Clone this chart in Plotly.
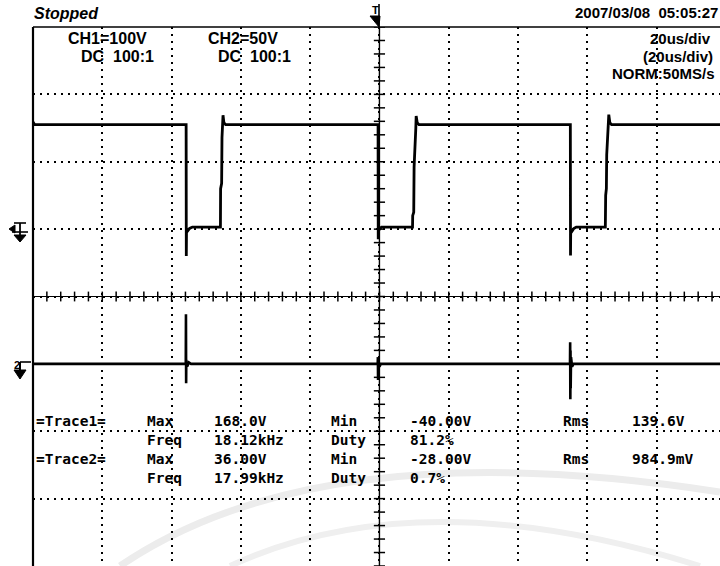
import numpy as np
import plotly.graph_objects as go

# ---------------- data ----------------
# CH1 (100 V/div) waveform breakpoints: time in us, voltage in V
ch1_time_us = [0, 0.5, 1.5,
               44.2, 44.25, 44.3, 44.6, 45.2, 46.0,
               54.1, 54.15, 54.45, 54.55, 54.85, 55.1, 55.6,
               99.6, 99.65, 99.7, 100.0, 100.6,
               109.55, 109.6, 109.9, 110.0, 110.5, 110.6, 110.9, 111.4,
               155.1, 155.15, 155.2, 155.5, 156.1, 156.8,
               165.2, 165.3, 165.5, 165.6, 166.1, 166.2, 166.5, 167.0,
               198.4]
ch1_volts = [159, 155, 155,
             155, -40, -5, -3, 1, 3,
             3, 60, 68, 136, 169, 158, 155,
             155, -15, -3, 0, 3,
             3, 20, 25, 92, 150, 168, 158, 155,
             155, -39, -6, -4, 1, 3,
             3, 50, 60, 110, 150, 170, 158, 155,
             155]

# CH2 (50 V/div) waveform breakpoints
ch2_time_us = [0, 44.1, 44.15, 44.2, 44.25, 44.5, 45.0, 45.6,
               99.5, 99.55, 99.6, 99.7, 100.0, 100.4,
               155.0, 155.05, 155.1, 155.15, 155.2, 155.3, 155.6, 156.0,
               198.4]
ch2_volts = [0, 0, 36.8, -14.4, 3, -2, 1, 0,
             0, 5, -12, 3, -2, 0,
             0, 16, -26.3, 10, -18, 5, -2, 0,
             0]

header_left = ["CH1=100V", "DC  100:1", "CH2=50V", "DC  100:1"]
header_right = ["20us/div", "(20us/div)", "NORM:50MS/s"]
status_text = "Stopped"
timestamp = "2007/03/08  05:05:27"

meas_rows = [
    ["=Trace1=", "Max", "168.0V", "Min", "-40.00V", "Rms", "139.6V"],
    ["", "Freq", "18.12kHz", "Duty", "81.2%", "", ""],
    ["=Trace2=", "Max", "36.00V", "Min", "-28.00V", "Rms", "984.9mV"],
    ["", "Freq", "17.99kHz", "Duty", "0.7%", "", ""],
]

# ---------------- geometry ----------------
W, H = 720, 566
L, T = 33, 27
PW, PH = W - L, H - T
X_RANGE = [0, 198.3]          # us, 20 us/div
CH1_RANGE = [-500, 300]       # V, 100 V/div, ground 1 div above centre
CH2_RANGE = [-150, 250]       # V, 50 V/div, ground 1 div below centre


def px(x):
    return (x - L) / PW


def py(y):
    return (H - y) / PH


fig = go.Figure()

# centre graticule lines with minor ticks
tick_x = np.arange(0, 198.4, 4)
tick_y = np.arange(-500, 301, 20)
fig.add_trace(go.Scatter(x=[X_RANGE[0], X_RANGE[1]], y=[-100, -100], mode="lines",
                         line=dict(color="black", width=1.2), hoverinfo="skip"))
fig.add_trace(go.Scatter(x=[100, 100], y=CH1_RANGE, mode="lines",
                         line=dict(color="black", width=1.4), hoverinfo="skip"))
fig.add_trace(go.Scatter(x=tick_x, y=[-100] * len(tick_x), mode="markers",
                         marker=dict(symbol="line-ns-open", size=7, color="black",
                                     line=dict(color="black", width=1.5)),
                         hoverinfo="skip"))
fig.add_trace(go.Scatter(x=[100] * len(tick_y), y=tick_y, mode="markers",
                         marker=dict(symbol="line-ew-open", size=8, color="black",
                                     line=dict(color="black", width=1.5)),
                         hoverinfo="skip"))

# waveforms
fig.add_trace(go.Scatter(x=ch1_time_us, y=ch1_volts, mode="lines",
                         line=dict(color="black", width=2.8), yaxis="y",
                         name="CH1"))
fig.add_trace(go.Scatter(x=ch2_time_us, y=ch2_volts, mode="lines",
                         line=dict(color="black", width=2.6), yaxis="y2",
                         name="CH2"))

grid_style = dict(showgrid=True, gridcolor="black", gridwidth=1.6,
                  griddash="2px,5px", zeroline=False, showticklabels=False,
                  ticks="", showline=False)

fig.update_layout(
    width=W, height=H,
    margin=dict(l=L, r=0, t=T, b=0, pad=0),
    paper_bgcolor="white", plot_bgcolor="white",
    showlegend=False,
    xaxis=dict(range=X_RANGE, dtick=20, tick0=0, **grid_style),
    yaxis=dict(range=CH1_RANGE, dtick=100, tick0=0, **grid_style),
    yaxis2=dict(range=CH2_RANGE, overlaying="y", showgrid=False, zeroline=False,
                showticklabels=False, ticks="", showline=False),
)

shapes = []
# frame: left and top border
shapes.append(dict(type="line", xref="paper", yref="paper", x0=0, x1=0, y0=0, y1=1,
                   line=dict(color="black", width=2.2)))
shapes.append(dict(type="line", xref="paper", yref="paper", x0=0, x1=1, y0=1, y1=1,
                   line=dict(color="black", width=1.5)))

# faint watermark arcs
shapes.append(dict(type="path", xref="paper", yref="paper", layer="below",
                   path=f"M {px(120)},{py(566)} Q {px(320)},{py(430)} {px(720)},{py(492)}",
                   line=dict(color="#ececec", width=7)))
shapes.append(dict(type="path", xref="paper", yref="paper", layer="below",
                   path=f"M {px(230)},{py(566)} Q {px(420)},{py(478)} {px(700)},{py(566)}",
                   line=dict(color="#efefef", width=6)))

# trigger marker (top centre)
shapes.append(dict(type="line", xref="paper", yref="paper",
                   x0=px(379), x1=px(379), y0=py(4), y1=py(27),
                   line=dict(color="black", width=1.6)))
shapes.append(dict(type="path", xref="paper", yref="paper", fillcolor="black",
                   path=f"M {px(370)},{py(16)} L {px(380)},{py(16)} L {px(379)},{py(27)} Z",
                   line=dict(color="black", width=1)))

# CH1 ground marker
shapes += [
    dict(type="line", xref="paper", yref="paper", x0=px(14), x1=px(26), y0=py(223), y1=py(223),
         line=dict(color="black", width=1.6)),
    dict(type="line", xref="paper", yref="paper", x0=px(20), x1=px(20), y0=py(223), y1=py(238),
         line=dict(color="black", width=1.8)),
    dict(type="line", xref="paper", yref="paper", x0=px(12), x1=px(28), y0=py(232), y1=py(232),
         line=dict(color="black", width=1.6)),
    dict(type="path", xref="paper", yref="paper", fillcolor="black",
         path=f"M {px(14)},{py(235)} L {px(26)},{py(235)} L {px(20)},{py(242)} Z",
         line=dict(color="black", width=1)),
    dict(type="path", xref="paper", yref="paper", fillcolor="black",
         path=f"M {px(9)},{py(229)} L {px(15)},{py(225)} L {px(15)},{py(233)} Z",
         line=dict(color="black", width=1)),
]
# CH2 ground marker
shapes += [
    dict(type="line", xref="paper", yref="paper", x0=px(20), x1=px(31), y0=py(362), y1=py(362),
         line=dict(color="black", width=1.6)),
    dict(type="line", xref="paper", yref="paper", x0=px(20), x1=px(20), y0=py(362), y1=py(372),
         line=dict(color="black", width=2)),
    dict(type="path", xref="paper", yref="paper", fillcolor="black",
         path=f"M {px(14)},{py(370)} L {px(26)},{py(370)} L {px(20)},{py(379)} Z",
         line=dict(color="black", width=1)),
]
fig.update_layout(shapes=shapes)

ann = []


def text(s, x, y, anchor="left", size=15, family="Liberation Sans", bold=True, italic=False):
    t = s.replace(" ", "&nbsp;")
    if bold:
        t = f"<b>{t}</b>"
    if italic:
        t = f"<i>{t}</i>"
    ann.append(dict(text=t, x=px(x), y=py(y), xref="paper", yref="paper",
                    xanchor=anchor, yanchor="middle", showarrow=False, borderpad=0,
                    font=dict(family=family, size=size, color="black")))


text(status_text, 33, 14, size=16, italic=True)
text(timestamp, 719, 13, anchor="right", size=15)
text("T", 371, 10, size=11)
text("2", 13, 365, size=11)

hl_pos = [(67, 38), (80, 56), (207, 38), (217, 56)]
for s, (x, y) in zip(header_left, hl_pos):
    text(s, x, y, size=16)
hr_pos = [(712, 38), (714, 56), (716, 74)]
for s, (x, y) in zip(header_right, hr_pos):
    text(s, x, y, anchor="right", size=15)

col_x = [35, 146, 213, 330, 409, 562, 631]
row_y = [421, 440, 459, 478]
for row, y in zip(meas_rows, row_y):
    for s, x in zip(row, col_x):
        if s:
            text(s, x, y, size=14.5, family="DejaVu Sans Mono")

fig.update_layout(annotations=ann)

fig.write_html("out.html", config={"displayModeBar": False},
               post_script="document.body.style.margin='0px';document.body.style.padding='0px';")
